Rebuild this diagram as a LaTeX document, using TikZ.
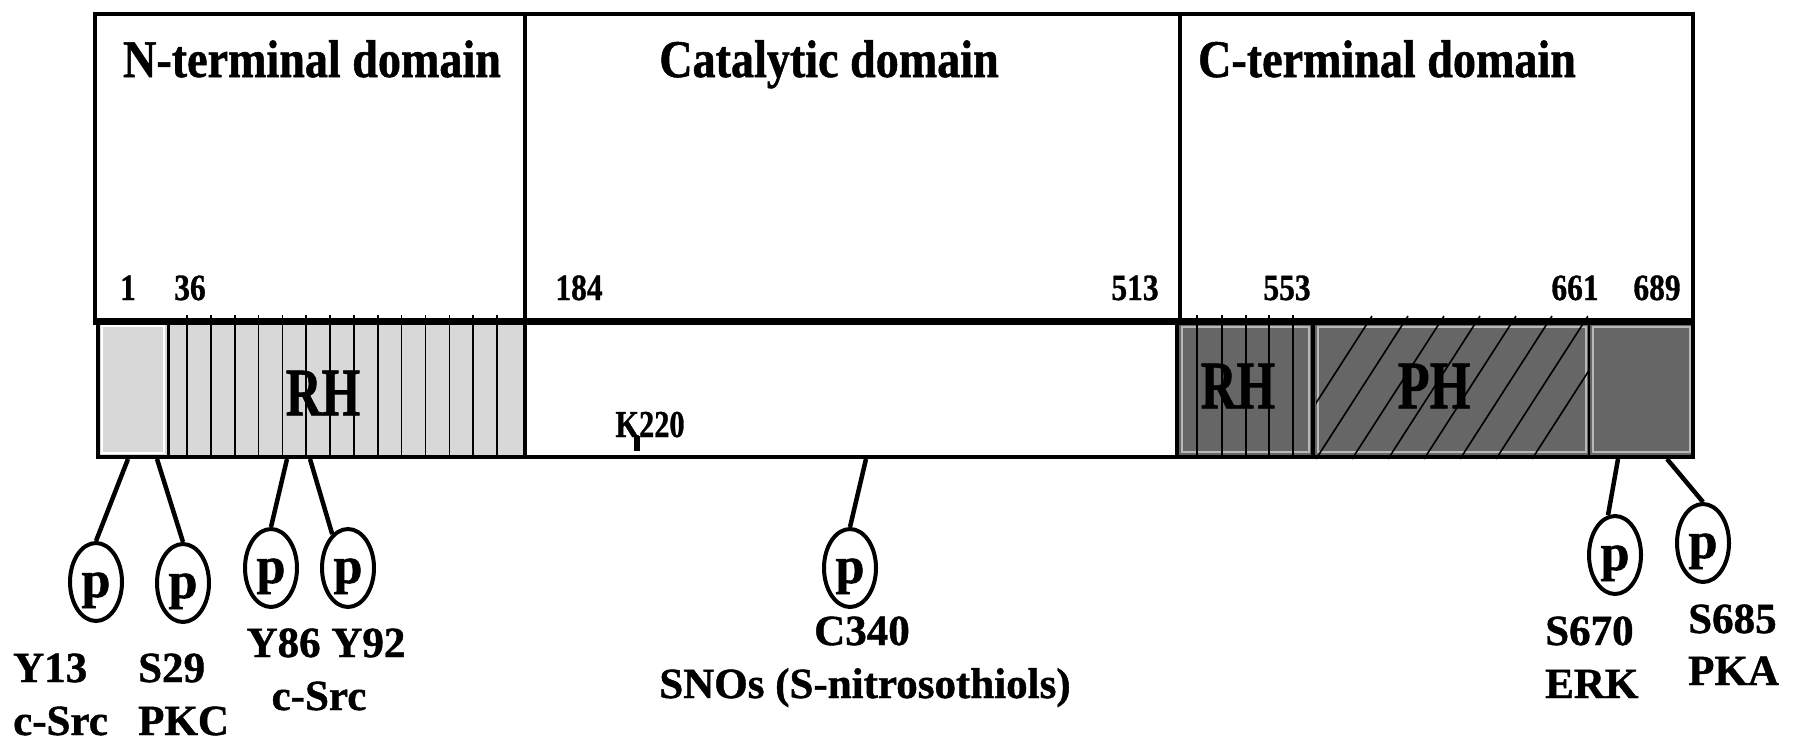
\documentclass[tikz,border=0pt]{standalone}
\usepackage{fontspec}
\usepackage{graphicx}
\setmainfont{Liberation Serif}[BoldFeatures={FakeBold=1}]
\usetikzlibrary{shapes.geometric}
\definecolor{lgray}{HTML}{D8D8D8}
\definecolor{dgray}{HTML}{666666}
\definecolor{edgegray}{HTML}{B8B8B8}
\newcommand{\ttlfont}{\fontsize{53}{60}\selectfont\bfseries}
\newcommand{\domfont}{\fontsize{68}{72}\selectfont\bfseries}
\begin{document}
\begin{tikzpicture}[x=1pt,y=-1pt,
  lbl/.style={inner sep=0, font=\fontsize{43}{50}\selectfont\bfseries},
  num/.style={inner sep=0, anchor=base, font=\fontsize{37}{40}\selectfont\bfseries},
  ttl/.style={inner sep=0, anchor=base},
  dom/.style={inner sep=0, anchor=center},
  phos/.style={ellipse, draw, line width=4pt, minimum width=52pt, minimum height=78pt,
    inner sep=0, text height=41pt, text depth=11pt, font=\fontsize{52}{56}\selectfont\bfseries},
  stalk/.style={line width=4.5pt},
  frame/.style={line width=4.5pt},
  hatch/.style={line width=1.6pt},
]
\useasboundingbox (0,0) rectangle (1795,750);
\fill[white] (0,0) rectangle (1795,750);

% ---- bar fills
\fill[lgray] (98,321) rectangle (168,457);
\fill[lgray] (168,321) rectangle (525,457);
\fill[dgray] (1177,321) rectangle (1313,457);
\fill[dgray] (1313,321) rectangle (1589,457);
\fill[dgray] (1589,321) rectangle (1693,457);

% inner light borders
\draw[white, line width=2pt] (102,326) rectangle (164,453);
\draw[edgegray, line width=1.5pt] (1182,327) rectangle (1309,452);
\draw[edgegray, line width=1.5pt] (1318,327) rectangle (1586,452);
\draw[edgegray, line width=1.5pt] (1593,327) rectangle (1690,452);

% N-terminal RH vertical hatch
\foreach \i in {0,...,13}
  \draw[hatch] ({187+23.85*\i},315) -- ({187+23.85*\i},457);
% C-terminal RH vertical hatch
\foreach \xx in {1197,1222,1246,1269,1293}
  \draw[hatch] (\xx,315) -- (\xx,457);
% PH diagonal hatch
\begin{scope}
  \clip (1316,314) rectangle (1588,459);
  \foreach \k in {-1,...,6}
    \draw[hatch] ({1316+36*\k},459) -- ({1316+36*\k+92},316);
\end{scope}

% separators
\draw[line width=3pt] (168,321) -- (168,457);
\draw[line width=4pt] (1313,321) -- (1313,457);
\draw[line width=2pt] (1589,321) -- (1589,457);
\draw[line width=3.5pt] (525,321) -- (525,457);
\draw[line width=3.5pt] (1177,321) -- (1177,457);

% upper frame
\draw[frame] (95,321) -- (95,14) -- (1693,14) -- (1693,321);
\draw[frame] (525,14) -- (525,321);
\draw[frame] (1180,14) -- (1180,321);
% thick line
\draw[line width=7pt] (93,321) -- (1695,321);
% bar outline
\draw[frame] (98,321) -- (98,457) -- (1693,457) -- (1693,321);

% ---- titles
\node[ttl] (tN) at (312,77) {\scalebox{0.87}[1]{\ttlfont N-terminal domain}};
\node[ttl] (tC) at (829,77) {\scalebox{0.87}[1]{\ttlfont Catalytic domain}};
\node[ttl] (tT) at (1387,77) {\scalebox{0.87}[1]{\ttlfont C-terminal domain}};

% ---- residue numbers
\node[num] (n1) at (128,300) {\scalebox{0.85}[1]{1}};
\node[num] (n36) at (190,300) {\scalebox{0.85}[1]{36}};
\node[num] (n184) at (579,300) {\scalebox{0.85}[1]{184}};
\node[num] (n513) at (1135,300) {\scalebox{0.85}[1]{513}};
\node[num] (n553) at (1287,300) {\scalebox{0.85}[1]{553}};
\node[num] (n661) at (1575,300) {\scalebox{0.85}[1]{661}};
\node[num] (n689) at (1657,300) {\scalebox{0.85}[1]{689}};

% ---- domain labels
\node[dom] (rhN) at (323,393) {\scalebox{0.73}[1]{\domfont RH}};
\node[dom] (rhC) at (1238,386) {\scalebox{0.73}[1]{\domfont RH}};
\node[dom] (ph) at (1434,386) {\scalebox{0.77}[1]{\domfont PH}};

% K220
\node[inner sep=0, anchor=base] (k220) at (650,437) {\scalebox{0.8}[1]{\fontsize{38}{40}\selectfont\bfseries K220}};
\draw[line width=6pt] (637,436) -- (637,451);

% ---- phosphorylation sites
\coordinate (a1) at (128,459);
\coordinate (a2) at (157,459);
\coordinate (a3) at (287,459);
\coordinate (a4) at (310,459);
\coordinate (a5) at (866,459);
\coordinate (a6) at (1618,459);
\coordinate (a7) at (1667,459);

\node[phos] (e1) at (96,582) {p};
\node[phos] (e2) at (183,583) {p};
\node[phos] (e3) at (271,568) {p};
\node[phos] (e4) at (348,568) {p};
\node[phos] (e5) at (850,568) {p};
\node[phos] (e6) at (1615,555) {p};
\node[phos] (e7) at (1703,543) {p};

\draw[stalk] (a1) -- (e1.north);
\draw[stalk] (a2) -- (e2.north);
\draw[stalk] (a3) -- (e3.north);
\draw[stalk] (a4) -- (e4.115);
\draw[stalk] (a5) -- (e5.north);
\draw[stalk] (a6) -- (e6.100);
\draw[stalk] (a7) -- (e7.north);

% ---- site labels
\node[lbl, anchor=base west] (l1a) at (13,682) {Y13};
\node[lbl, anchor=base west] (l1b) at (13,735) {c-Src};
\node[lbl, anchor=base west] (l2a) at (138,682) {S29};
\node[lbl, anchor=base west] (l2b) at (138,735) {PKC};
\node[lbl, anchor=base] (l3a) at (326,657) {Y86 Y92};
\node[lbl, anchor=base] (l3b) at (319,710) {c-Src};
\node[lbl, anchor=base] (l5a) at (862,645) {C340};
\node[lbl, anchor=base] (l5b) at (865,698) {SNOs (S-nitrosothiols)};
\node[lbl, anchor=base west] (l6a) at (1545,645) {S670};
\node[lbl, anchor=base west] (l6b) at (1545,698) {ERK};
\node[lbl, anchor=base west] (l7a) at (1688,633) {S685};
\node[lbl, anchor=base west] (l7b) at (1688,685) {PKA};
\end{tikzpicture}
\end{document}
